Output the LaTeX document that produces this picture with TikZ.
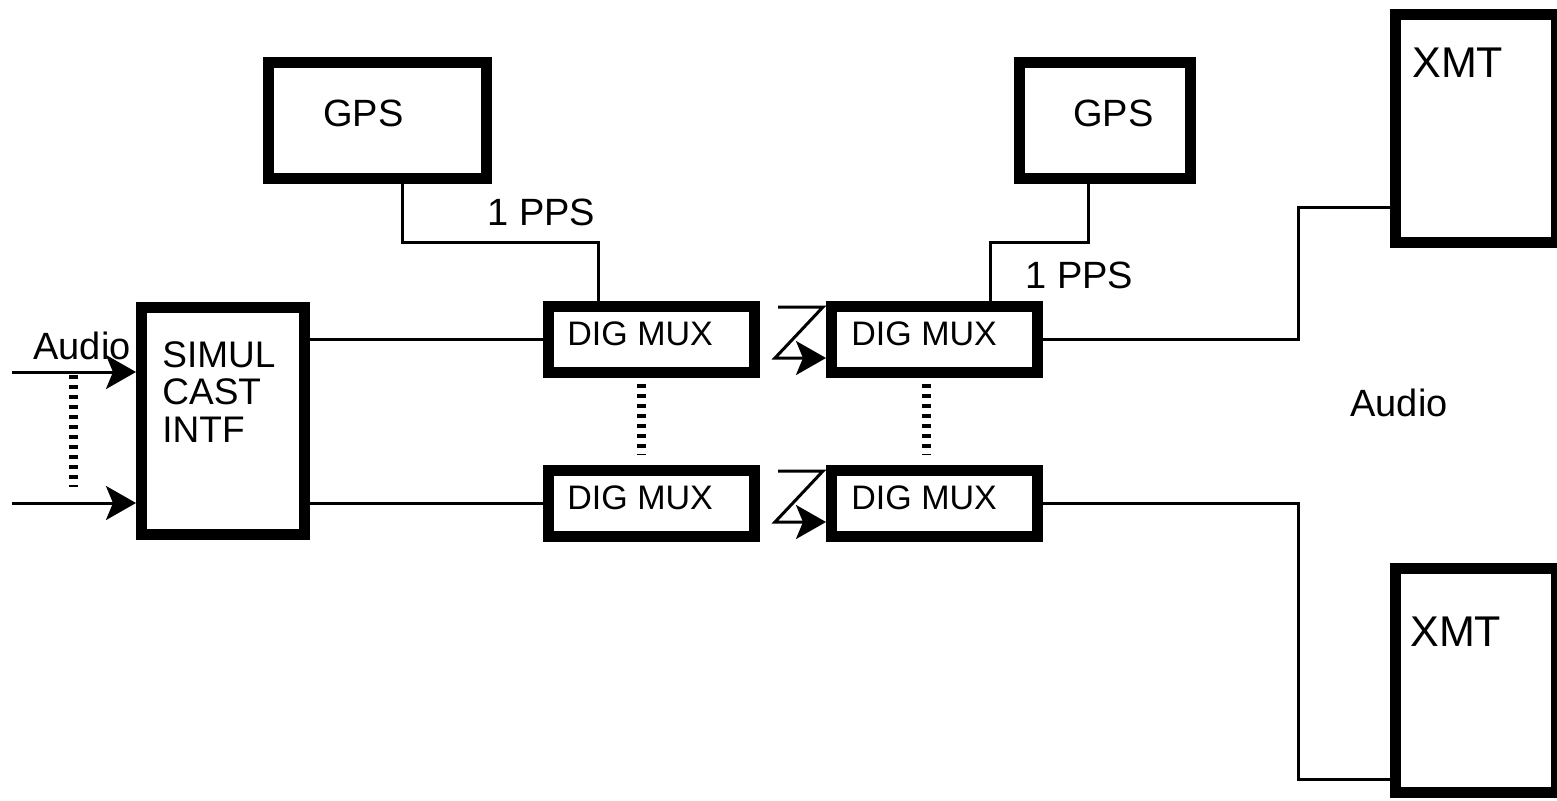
\documentclass[tikz,border=0pt]{standalone}
\usepackage{fontspec}
\setmainfont{Liberation Sans}
\usetikzlibrary{arrows.meta,positioning,calc}

\begin{document}
\begin{tikzpicture}[x=0.5pt,y=-0.5pt,
  box/.style={draw,line width=5.5pt,inner sep=0pt},
  wire/.style={line width=1.5pt},
  feed/.style={line width=1.5pt,-{Stealth[length=15pt,width=17pt,inset=3.5pt]}},
  dots/.style={line width=4.5pt,dash pattern=on 1.75pt off 3.25pt},
  lbl/.style={anchor=west,inner sep=0pt,font=\fontsize{19}{23}\selectfont},
  muxlbl/.style={anchor=west,inner sep=0pt,font=\fontsize{17}{20}\selectfont},
  xmtlbl/.style={anchor=west,inner sep=0pt,font=\fontsize{21.5}{25}\selectfont}]
\useasboundingbox (0,0) rectangle (1557,800);
\node[box,minimum width=109pt,minimum height=58pt] (gpsL) at (377.5,120.5) {};
\node[box,minimum width=85.5pt,minimum height=58pt] (gpsR) at (1105,120.5) {};
\node[box,minimum width=81.5pt,minimum height=113.5pt] (simul) at (223,421) {};
\node[box,minimum width=103pt,minimum height=33pt] (muxA) at (651.5,339.5) {};
\node[box,minimum width=103pt,minimum height=33pt] (muxB) at (934.5,339.5) {};
\node[box,minimum width=103pt,minimum height=33pt] (muxC) at (651.5,503.5) {};
\node[box,minimum width=103pt,minimum height=33pt] (muxD) at (934.5,503.5) {};
\node[box,minimum width=80.5pt,minimum height=114pt] (xmtA) at (1476,128.5) {};
\node[box,minimum width=80.5pt,minimum height=112pt] (xmtB) at (1476,680.5) {};
\node[lbl] (gpsLtxt) at (323,113) {GPS};
\node[lbl] (gpsRtxt) at (1073,113) {GPS};
\node[lbl] (ppsL) at (487,212) {1 PPS};
\node[lbl] (ppsR) at (1025,275) {1 PPS};
\node[lbl] (audioL) at (33,346) {Audio};
\node[lbl] (audioR) at (1350,403) {Audio};
\node[anchor=north west,inner sep=0pt,align=left,font=\fontsize{18.5}{18.75}\selectfont] (simultxt) at (162,341) {SIMUL\\CAST\\INTF};
\node[muxlbl] (muxAtxt) at (567,334) {DIG MUX};
\node[muxlbl] (muxBtxt) at (851,334) {DIG MUX};
\node[muxlbl] (muxCtxt) at (567,498) {DIG MUX};
\node[muxlbl] (muxDtxt) at (851,498) {DIG MUX};
\node[xmtlbl] (xmtAtxt) at (1412,63) {XMT};
\node[xmtlbl] (xmtBtxt) at (1410,632) {XMT};
\coordinate (bendA) at (402,242);
\coordinate (bendB) at (598,242);
\coordinate (bendC) at (1088,242);
\coordinate (bendD) at (990,242);
\coordinate (turnA) at (1298,207);
\coordinate (turnB) at (1298,779);
\coordinate (inA) at (12,372);
\coordinate (inB) at (12,503);
\draw[wire] (gpsL.south -| bendA) -- (bendA) -- (bendB) -- (bendB |- muxA.north);
\draw[wire] (gpsR.south -| bendC) -- (bendC) -- (bendD) -- (bendD |- muxB.north);
\draw[wire] (muxA.west -| simul.east) -- (muxA.west);
\draw[wire] (muxC.west -| simul.east) -- (muxC.west);
\draw[wire] (muxB.east) -| (turnA) -- (turnA -| xmtA.west);
\draw[wire] (muxD.east) -| (turnB) -- (turnB -| xmtB.west);
\draw[feed] (inA) -- (inA -| simul.west);
\draw[feed] (inB) -- (inB -| simul.west);
\draw[feed] (778,307) -- (823,307) -- (775,358) -- (muxB.west |- 0,358);
\draw[feed] (778,471) -- (823,471) -- (775,522) -- (muxD.west |- 0,522);
\draw[dots] (73,375) -- (73,487);
\draw[dots] (641,384) -- (641,455);
\draw[dots] (926,384) -- (926,455);
\end{tikzpicture}
\end{document}
